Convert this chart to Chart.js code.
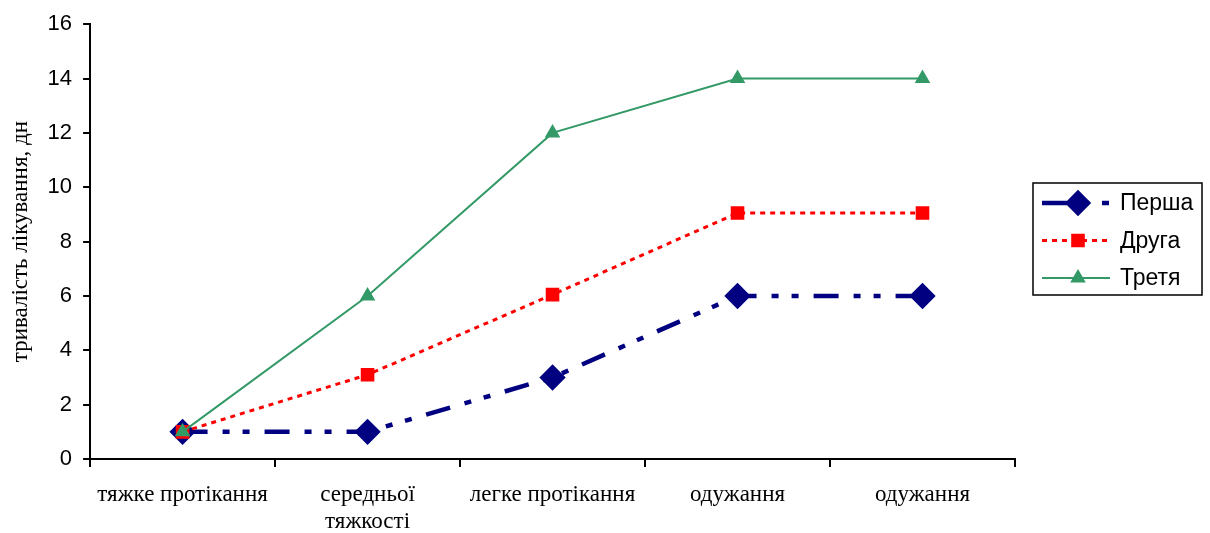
<!DOCTYPE html>
<html>
<head>
<meta charset="utf-8">
<script src="https://cdn.jsdelivr.net/npm/chart.js@4/dist/chart.umd.min.js"></script>
<style>
  body { margin: 0; background: #fff; }
  #wrap { width: 1210px; height: 533px; }
</style>
</head>
<body>
<div id="wrap"><canvas id="chart" width="1210" height="533"></canvas></div>
<script>
// categories and values
const stages = ["тяжке протікання", ["середньої", "тяжкості"], "легке протікання", "одужання", "одужання"];
const persha = [1, 1, 3, 6, 6];
const druha = [1, 3.1, 6.05, 9.05, 9.05];
const tretia = [1, 6, 12, 14, 14];
const yTitle = "тривалість лікування, дн";

const serif = "'Liberation Serif', 'Times New Roman', serif";
const sans = "'Liberation Sans', Arial, sans-serif";

// legend drawn by hand: line + marker like in the old office chart
const legendPlugin = {
  id: "boxLegend",
  afterDraw(chart) {
    const ctx = chart.ctx;
    const x = chart.chartArea.right + 18;
    const y = 183;
    ctx.save();
    ctx.strokeStyle = "#000";
    ctx.lineWidth = 1.5;
    ctx.strokeRect(x, y, 169, 112);
    ctx.font = "23px " + sans;
    ctx.textBaseline = "middle";
    chart.data.datasets.forEach((ds, i) => {
      const ly = y + 20 + i * 37.5;
      ctx.strokeStyle = ds.borderColor;
      ctx.lineWidth = ds.borderWidth;
      ctx.setLineDash(ds.borderDash || []);
      ctx.beginPath();
      ctx.moveTo(x + 9, ly);
      ctx.lineTo(x + 77, ly);
      ctx.stroke();
      ctx.setLineDash([]);
      Chart.helpers.drawPoint(ctx, {
        pointStyle: ds.pointStyle, radius: ds.pointRadius, borderWidth: 1
      }, x + 45, ly);
      ctx.fillStyle = ds.pointBackgroundColor;
      ctx.fill();
      ctx.fillStyle = "#000";
      ctx.fillText(ds.label, x + 87, ly + 1);
    });
    ctx.restore();
  }
};

new Chart(document.getElementById("chart"), {
  type: "line",
  data: {
    labels: stages,
    datasets: [
      {
        label: "Перша",
        data: persha,
        borderColor: "#000080",
        borderWidth: 4.5,
        borderDash: [25, 15, 7, 13, 7, 15],
        pointStyle: "rectRot",
        pointRadius: 10,
        pointBackgroundColor: "#000080",
        pointBorderColor: "#000080",
        tension: 0,
        order: 3,
      },
      {
        label: "Друга",
        data: druha,
        borderColor: "#ff0000",
        borderWidth: 3,
        borderDash: [5, 5],
        pointStyle: "rect",
        pointRadius: 7.5,
        pointBackgroundColor: "#ff0000",
        pointBorderColor: "#ff0000",
        tension: 0,
        order: 2,
      },
      {
        label: "Третя",
        data: tretia,
        borderColor: "#339966",
        borderWidth: 2,
        pointStyle: "triangle",
        pointRadius: 7,
        pointBackgroundColor: "#339966",
        pointBorderColor: "#339966",
        tension: 0,
        order: 1,
      },
    ],
  },
  options: {
    responsive: false,
    animation: false,
    layout: { padding: { left: 7, right: 195, top: 12, bottom: 0 } },
    plugins: { legend: { display: false }, tooltip: { enabled: false } },
    scales: {
      x: {
        offset: true,
        afterFit(scale) { scale.height = 74; },
        grid: { offset: true, drawOnChartArea: false, drawTicks: true, tickLength: 8, color: "#000", lineWidth: 2 },
        border: { display: true, color: "#000", width: 2 },
        ticks: {
          color: "#000",
          padding: 14,
          maxRotation: 0,
          autoSkip: false,
          font: { family: serif, size: 23, lineHeight: 1.2 },
        },
      },
      y: {
        min: 0,
        max: 16,
        ticks: {
          stepSize: 2,
          color: "#000",
          padding: 11,
          font: { family: sans, size: 22 },
        },
        grid: { drawOnChartArea: false, drawTicks: true, tickLength: 7, color: "#000", lineWidth: 2 },
        border: { display: true, color: "#000", width: 2 },
        title: {
          display: true,
          text: yTitle,
          color: "#000",
          padding: { top: 0, bottom: 2 },
          font: { family: serif, size: 23 },
        },
      },
    },
  },
  plugins: [legendPlugin],
});
</script>
</body>
</html>
